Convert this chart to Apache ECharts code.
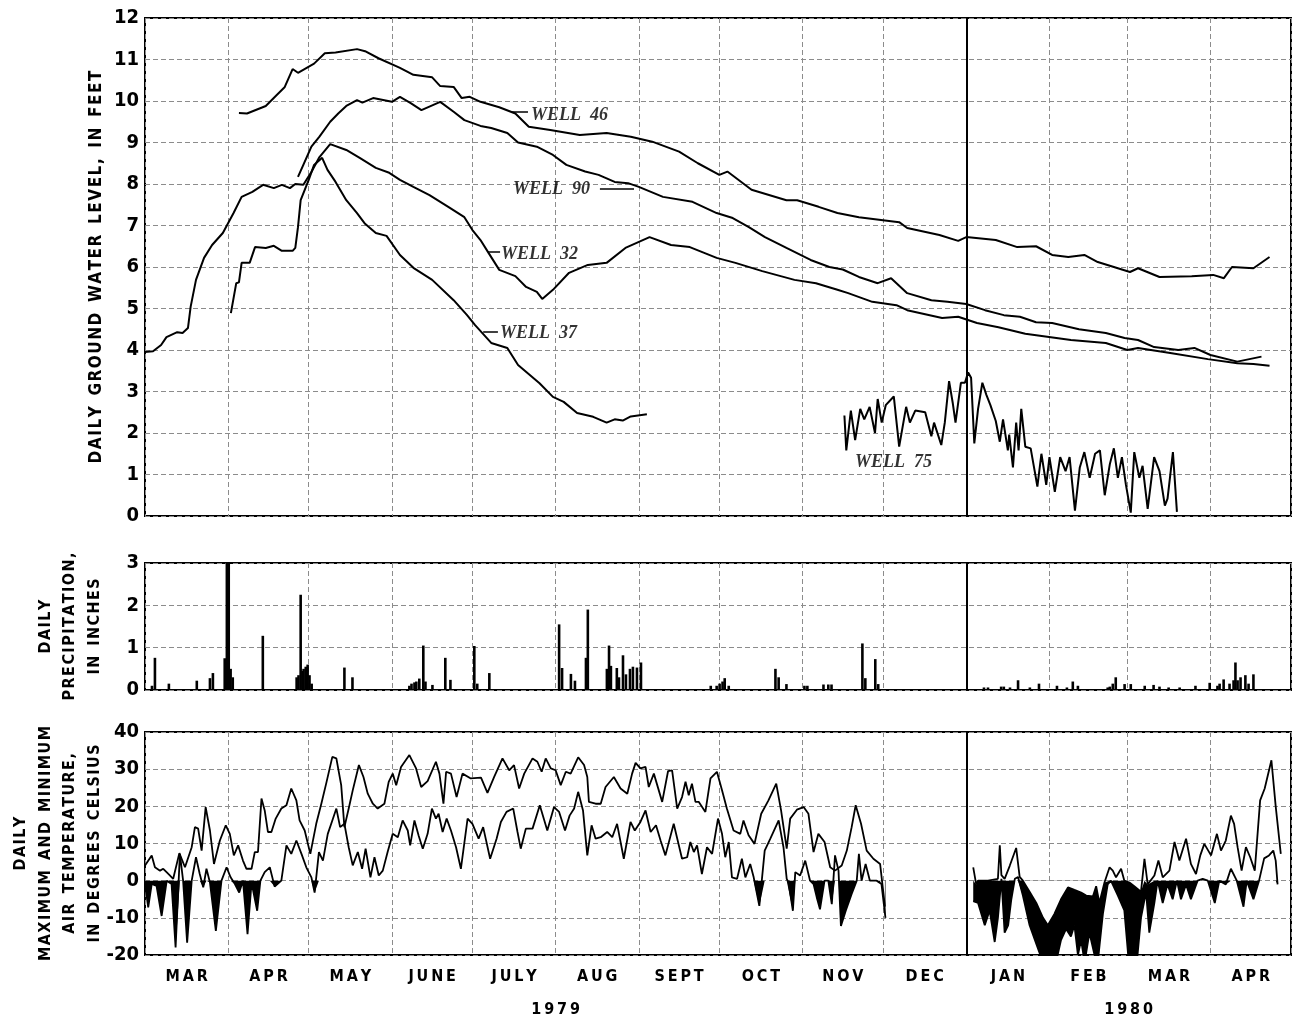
<!DOCTYPE html>
<html>
<head>
<meta charset="utf-8">
<script src="https://cdn.jsdelivr.net/npm/echarts@6.0.0/dist/echarts.min.js"></script>
<style>
  html, body { margin: 0; padding: 0; background: #fff; }
  #container { width: 1293px; height: 1026px; }
</style>
</head>
<body>
<div id="container"></div>
<script>
// x values are days counted from 1 March 1979
const monthNames = ["MAR", "APR", "MAY", "JUNE", "JULY", "AUG", "SEPT", "OCT", "NOV", "DEC", "JAN", "FEB", "MAR", "APR"];
const monthLengths = [31, 30, 31, 30, 31, 31, 30, 31, 30, 31, 31, 29, 31, 30];
const yearNames = ["1979", "1980"];

// daily ground water level, feet
const well46 = [[35,9.71],[38,9.7],[45,9.88],[49,10.14],[52,10.33],[55,10.77],[57,10.68],[63,10.9],[67,11.15],[71,11.17],[79,11.25],[82,11.2],[87,11.03],[95,10.8],[100,10.63],[107,10.57],[110,10.36],[115,10.34],[118,10.07],[121,10.1],[125,9.98],[132,9.85],[138,9.7],[143,9.38],[151,9.3],[162,9.18],[172,9.23],[181,9.14],[189,9.02],[199,8.78],[206,8.5],[214,8.22],[217,8.3],[226,7.86],[239,7.61],[243,7.61],[251,7.45],[258,7.3],[266,7.2],[281,7.08],[284,6.94],[296,6.77],[303,6.63],[306,6.72],[317,6.65],[325,6.48],[332,6.5],[338,6.29],[344,6.24],[350,6.29],[355,6.12],[367,5.88],[370,5.97],[378,5.76],[390,5.78],[398,5.81],[402,5.73],[405,6.0],[413,5.97],[419,6.24]];
const well90 = [[57,8.17],[59,8.46],[62,8.9],[65,9.14],[69,9.5],[72,9.7],[75,9.88],[79,10.02],[81,9.96],[85,10.07],[92,9.98],[95,10.1],[99,9.95],[103,9.78],[110,9.98],[115,9.74],[119,9.54],[125,9.4],[129,9.35],[135,9.23],[139,9.0],[146,8.9],[152,8.7],[157,8.46],[164,8.3],[169,8.22],[175,8.05],[180,8.02],[184,7.93],[193,7.69],[204,7.57],[213,7.3],[219,7.18],[225,6.96],[231,6.72],[239,6.46],[248,6.17],[255,6.0],[260,5.94],[266,5.76],[273,5.61],[278,5.73],[284,5.37],[293,5.2],[299,5.16],[306,5.11],[313,4.96],[320,4.84],[326,4.8],[332,4.67],[338,4.65],[348,4.5],[358,4.41],[365,4.29],[370,4.24],[376,4.07],[385,4.0],[391,4.05],[397,3.88],[407,3.72],[416,3.84]];
const well32 = [[0,3.95],[3,3.97],[6,4.12],[8,4.31],[12,4.43],[14,4.41],[16,4.53],[17,5.04],[19,5.69],[22,6.22],[25,6.53],[29,6.82],[33,7.3],[36,7.69],[40,7.81],[44,7.98],[48,7.9],[51,7.98],[54,7.9],[56,8.0],[59,7.98],[62,8.29],[65,8.65],[69,8.96],[75,8.82],[80,8.63],[86,8.39],[91,8.27],[95,8.1],[100,7.93],[106,7.73],[113,7.45],[119,7.2],[122,6.89],[125,6.65],[128,6.34],[132,5.93],[138,5.78],[142,5.52],[146,5.4],[148,5.23],[152,5.45],[158,5.86],[165,6.05],[172,6.1],[179,6.46],[188,6.72],[196,6.53],[203,6.48],[213,6.22],[220,6.1],[230,5.9],[242,5.69],[250,5.61],[258,5.45],[262,5.37],[271,5.16],[280,5.08],[284,4.96],[297,4.77],[303,4.8],[310,4.65],[318,4.55],[328,4.39],[345,4.24],[358,4.17],[366,4.0],[370,4.05],[382,3.93],[396,3.78],[407,3.68],[413,3.66],[419,3.62]];
const well37 = [[32,4.89],[34,5.61],[35,5.63],[36,6.1],[39,6.1],[41,6.48],[45,6.46],[48,6.51],[51,6.39],[55,6.39],[56,6.46],[57,6.96],[58,7.61],[61,8.1],[63,8.46],[66,8.63],[68,8.34],[71,8.05],[75,7.61],[79,7.3],[82,7.04],[86,6.82],[90,6.75],[95,6.29],[100,5.98],[107,5.69],[115,5.2],[120,4.84],[123,4.6],[129,4.17],[135,4.05],[139,3.64],[147,3.2],[152,2.87],[156,2.75],[161,2.48],[167,2.39],[172,2.25],[175,2.33],[178,2.3],[181,2.4],[187,2.45]];
const well75 = [[260.6,2.42],[261.3,1.58],[263,2.54],[264.6,1.83],[266.5,2.58],[268,2.33],[270,2.63],[272,2.0],[273,2.82],[274.5,2.25],[276,2.67],[279,2.88],[281,1.67],[283.6,2.63],[285,2.25],[287,2.54],[290.7,2.5],[293,1.92],[294,2.25],[296.7,1.71],[298,2.25],[299.6,3.25],[301,2.71],[302,2.25],[304,3.21],[305.5,3.21],[306.7,3.46],[307.8,3.33],[309,1.75],[310.4,2.58],[312,3.21],[313.5,2.92],[315,2.67],[317,2.29],[318.5,1.79],[319.7,2.33],[321.5,1.58],[322,1.96],[323.4,1.17],[324.6,2.25],[325.5,1.58],[326.5,2.58],[328,1.67],[330,1.63],[331.5,1.08],[332.5,0.71],[334,1.5],[335.8,0.75],[337,1.42],[339,0.58],[341,1.42],[343,1.08],[344.5,1.42],[346.5,0.13],[348.3,1.17],[350,1.54],[352,0.92],[354,1.5],[355.8,1.58],[357.6,0.5],[359.5,1.25],[361,1.63],[362.5,0.92],[364,1.42],[365.5,0.75],[367.3,0.08],[368.6,1.54],[370.5,0.92],[371.7,1.21],[373.6,0.17],[376,1.42],[378,1.08],[380,0.25],[381,0.42],[383,1.54],[384.5,0.1]];

const wellLabelNames = ["WELL 46", "WELL 90", "WELL 32", "WELL 37", "WELL 75"];
const wellLabelAt = [[143.8,9.66],[137.1,7.86],[132.6,6.31],[132.3,4.41],[264.5,1.3]];
const wellLeaders = [[[136.7,9.73],[142.7,9.73]], [[169.5,7.88],[182.2,7.88]], [[127.8,6.36],[132.3,6.36]], [[126,4.43],[131.5,4.43]]];

// daily precipitation, inches
const precip = [[2.6,0.1],[3.7,0.76],[8.9,0.15],[19.3,0.22],[24.2,0.28],[25.3,0.4],[29.7,0.75],[30.5,3],[31.2,3],[31.9,0.5],[32.7,0.3],[43.9,1.28],[56.5,0.3],[57.2,0.35],[58,2.25],[58.7,0.45],[59.1,0.5],[59.9,0.55],[60.6,0.6],[61.3,0.35],[62.1,0.15],[74.3,0.53],[77.3,0.3],[98.5,0.1],[99.3,0.15],[100.4,0.18],[101.1,0.2],[102.2,0.27],[103.7,1.05],[104.5,0.2],[107.1,0.12],[111.9,0.76],[113.8,0.24],[122.7,1.04],[123.8,0.15],[128.3,0.4],[154.3,1.55],[155.4,0.52],[158.7,0.38],[160.2,0.22],[164.3,0.76],[165,1.9],[172.1,0.5],[172.9,1.05],[173.6,0.57],[175.8,0.52],[176.6,0.3],[178.1,0.82],[179.2,0.37],[180.7,0.5],[181.8,0.55],[183.3,0.53],[184.8,0.65],[210.8,0.1],[213,0.1],[214.1,0.15],[215.2,0.2],[216,0.28],[217.5,0.1],[234.9,0.5],[236.1,0.3],[239,0.14],[245.7,0.1],[246.8,0.1],[252.8,0.13],[254.6,0.13],[255.8,0.13],[267.3,1.1],[268.4,0.28],[272.1,0.73],[273.2,0.14],[312.6,0.06],[314.1,0.06],[319,0.08],[320,0.08],[322.3,0.06],[325.3,0.23],[329.7,0.06],[333.1,0.15],[339.8,0.1],[343.5,0.06],[345.7,0.2],[347.6,0.1],[358.7,0.06],[359.5,0.08],[360.6,0.15],[361.7,0.3],[365,0.14],[367.3,0.14],[372.5,0.1],[375.8,0.12],[378,0.08],[381.4,0.06],[385.5,0.06],[391.4,0.1],[396.7,0.17],[399.6,0.1],[400.4,0.15],[401.9,0.25],[404.1,0.15],[405.6,0.23],[406.3,0.65],[407.1,0.23],[408.2,0.3],[410,0.35],[411.2,0.15],[413,0.37]];

// daily maximum and minimum air temperature, degrees Celsius
const tMax1979 = [[0,4.1],[2.5,6.8],[3.7,3.6],[5.6,2.7],[6.8,3.2],[8.7,1.8],[10.5,0.5],[12.8,7.4],[14.9,3.6],[17.4,9.0],[18.6,14.4],[19.8,14],[21.1,8.1],[22.6,19.8],[24.2,13.5],[25.7,4.5],[27.9,10.8],[30.1,14.9],[31.6,12.6],[33.1,6.8],[34.7,9.5],[36.5,5.4],[37.8,3.2],[39.7,3.2],[40.9,7.7],[42.1,7.7],[43.4,22.1],[44.6,18.9],[45.8,13.1],[47.1,13.1],[48.7,16.7],[50.8,19.4],[52.7,20.3],[54.5,24.8],[56.4,21.6],[57.6,16.2],[59.5,13.5],[61.6,7.2],[63.8,15.3],[65.7,20.7],[67.5,26.1],[69.8,33.3],[71.3,32.9],[73.1,25.7],[74.3,14.4],[75.9,19.4],[77.4,24.3],[79.7,31.1],[81.4,27.9],[83,23.4],[84.9,20.7],[86.7,19.4],[89.2,20.7],[90.8,26.6],[92.3,28.8],[93.6,25.7],[95.4,30.6],[98.5,33.8],[101,30.2],[102.9,25.2],[105.3,26.8],[108.4,32],[109.7,28.8],[111.2,20.7],[112.2,29.3],[114,28.8],[116.1,22.5],[118.3,28.8],[121.4,27.5],[125.2,27.7],[127.6,23.6],[130.1,27.9],[133.2,32.9],[135.7,29.7],[137.5,31.1],[139.4,24.8],[141.3,28.8],[144.4,32.9],[146.2,32],[147.8,29.3],[149.3,32.9],[151.2,30.2],[153,29.7],[154.9,25.7],[156.8,29.3],[158.6,28.8],[161.4,33.2],[163.6,31.1],[164.8,27.9],[165.4,21.2],[167.9,20.7],[169.8,20.7],[171.6,25.2],[174.7,27.9],[177.2,24.8],[179.7,23.4],[181.5,28.8],[182.8,31.7],[184.6,30.2],[186.5,30.6],[187.7,25.2],[189.6,28.8],[192.7,21.2],[194.9,29.5],[196.4,29.7],[198.3,19.4],[200.1,22.5],[201.4,26.6],[202.6,23],[203.8,26.1],[205.1,21.2],[206.3,21.2],[208.8,18.5],[210.7,27.5],[213.1,29.3],[215,24.3],[216.8,19.4],[219.3,13.5],[221.8,12.6],[223,16.2],[224.9,12.2],[227.1,9.9],[229.6,18],[232.3,21.6],[235.2,26.1],[237,18.9],[239.1,8.6],[240.4,16.7],[242.9,19.1],[245.4,19.8],[247.2,18],[249.1,7.7],[250.9,12.6],[253.2,10.4],[255.3,3.6],[257.1,2.7],[259.6,4.1],[261.5,8.1],[263.3,14.4],[264.8,20.3],[266.8,15.3],[268.9,8.1],[271.4,5.9],[273.9,4.5],[275.7,-7]];
const tMin1979 = [[0,-0.9],[1.2,-7.2],[2.5,-0.9],[4.3,-1.4],[6.2,-9.5],[8.1,0],[9.9,-0.9],[11.4,-18],[13,7.2],[14.2,0],[15.7,-16.7],[17.4,0],[19,6.3],[20.4,1.8],[21.7,-1.8],[22.9,3.2],[24.2,-0.5],[26.4,-13.5],[28.5,0],[30.4,3.6],[31.9,0.9],[33.5,-0.9],[35.1,-3.2],[36.5,0],[38.2,-14.4],[39.7,-0.5],[41.8,-8.1],[43,0],[44.6,2.3],[46.5,3.6],[48.3,-1.6],[50.8,0],[52.7,9.5],[54.5,7.2],[56.4,10.8],[58.3,7.2],[60.1,3.6],[62,0.9],[63.2,-3.2],[64.8,7.7],[66.3,5.4],[68.1,12.6],[69.8,16.2],[71.3,19.4],[72.7,14.4],[74.3,15.3],[75.9,9],[77.4,4.1],[79.3,7.7],[80.9,3.2],[82.2,8.6],[84,0.9],[85.5,6.3],[87.1,1.4],[88.6,2.7],[90.4,7.7],[92.3,12.6],[94.2,11.7],[96,16.2],[97.9,13.5],[98.8,9.5],[100.4,16.2],[102,12],[103.5,8.6],[105.3,12.6],[106.9,19.4],[108.4,16.7],[109.4,18],[110.9,13.1],[112.4,16.7],[114,13.5],[115.9,9],[117.7,3.2],[120.2,16.7],[122,15.3],[124.3,11.3],[126,14.4],[128.6,5.9],[131,11.3],[132.6,15.8],[134.7,18.5],[137.2,19.4],[138.8,13.1],[140,8.6],[141.9,14],[144.4,14],[147.1,20.3],[149.9,13.5],[152.4,19.8],[154.3,18.5],[156.5,13.5],[158.2,17.5],[159.9,19.4],[161.4,23.9],[163.2,18.9],[164.8,6.8],[166.4,14.9],[167.9,11.3],[169.8,11.7],[172.2,13.1],[174.1,11.7],[175.9,15.3],[178.4,5.9],[180.9,15.8],[182.5,13.5],[184.6,15.8],[186.5,18.9],[188.4,13.1],[190.4,14.9],[192.1,10.8],[193.9,6.8],[197,15.3],[200.1,5.9],[202,6.3],[203.2,10.4],[204.5,7.7],[205.7,9.5],[207.5,1.8],[209.4,9],[211.3,7.2],[213.5,16.7],[215,12.6],[216.2,6.3],[217.5,10.4],[218.7,0.9],[220.6,0.5],[222.4,5.9],[223.7,0.9],[225.5,4.5],[226.8,0.9],[228.9,-6.8],[230.9,8.1],[233,11.3],[236.1,16.2],[237.9,9],[239.1,0.5],[239.8,-0.5],[241.4,-8.1],[242.3,2.3],[244.1,1.4],[246,5.4],[247.8,0],[249.1,-0.9],[250.3,-4.5],[251.5,-7.7],[253.2,0],[254.6,0],[255.9,-6.3],[257.1,6.8],[258.4,2.7],[259.3,-12.2],[261.1,-8.1],[263.3,-3.6],[265.2,0],[266,7.2],[267,0],[268.5,4.5],[270.1,0],[272.6,0],[274.4,-0.9],[275.9,-10]];
const tMax1980 = [[308.6,3.6],[309.7,-1],[310.4,0],[314.1,0],[317.8,0.5],[318.5,9.5],[319.1,1.5],[320.3,0.5],[322.2,4],[324.6,8.8],[325.9,1],[327.1,0],[329.6,-3],[332.1,-6],[334.6,-10],[336.4,-12],[338.8,-9],[341.3,-5],[343.9,-1.8],[346.3,-2.5],[348.8,-3.2],[350.7,-4],[353.2,-4.2],[354.4,-1.5],[355.6,-6],[357.5,-0.5],[359.4,3.6],[360.6,2.7],[361.8,0.9],[363.7,3.2],[364.9,0],[366.8,-0.5],[368.6,-1.5],[371.1,-3],[372.4,5.9],[373.6,-1],[376.1,1.4],[377.6,5.4],[379.2,0.9],[381.7,2.7],[383.6,10.4],[385.4,5.4],[387.9,11.3],[389.7,4.5],[391.6,1.8],[393.2,6.8],[394.7,9.9],[397.2,6.8],[399.4,12.6],[400.9,8.1],[402.7,10.8],[404.6,17.5],[405.8,15.3],[407.1,9],[408.6,2.7],[410.2,9],[411.8,6.3],[413.5,2.7],[415.5,21.6],[417.2,24.8],[419.7,32.4],[421.3,20],[423.2,7.2]];
const tMin1980 = [[308.6,-5.5],[310.4,-6],[312.9,-12],[314.7,-8],[316.6,-16.5],[317.8,-10],[319.1,0.5],[320.3,-14],[321.6,-12],[322.8,-5],[324.1,0.5],[325.3,1],[327.1,-4],[329.6,-12],[332.1,-17],[334.6,-22],[336.4,-24],[338.8,-24],[341.3,-16],[343.2,-13],[345,-15],[346.3,-12],[347.6,-20],[348.8,-16],[350.1,-22],[351.9,-14],[353.8,-20],[355,-22],[356.9,-9],[358.7,-1],[359.9,0],[362.5,-4],[364.9,-8],[366.8,-24],[369.3,-24],[371.1,-10],[373,-3],[374.2,-14],[376.1,-6],[377.3,0],[379.2,-6],[381,-1],[382.9,-5],[384.5,0],[386,-5],[387.9,-1],[389.7,-5],[392.2,0],[394.1,0.5],[396,0],[398.6,-6],[400.3,0],[402.7,-1],[404.6,3.2],[406.8,0],[409.3,-7],[410.5,0],[413,-5],[415.1,0],[417,6],[418.8,6.8],[420.4,8.1],[421.3,5.4],[422,-1]];

// calendar helpers
const monthStarts = [0];
monthLengths.forEach((n, i) => monthStarts.push(monthStarts[i] + n));
const monthMids = monthLengths.map((n, i) => monthStarts[i] + n / 2);
const dayMax = monthStarts[monthStarts.length - 1];
const jan1980 = monthStarts[10];
const yearMids = [jan1980 / 2, (jan1980 + dayMax) / 2];

const FONT = "'Liberation Sans Narrow', 'DejaVu Sans Condensed', sans-serif";
const SERIF = "'Liberation Serif', 'DejaVu Serif', serif";
const spread = (gap, word) => (s) => s.split("").map((c) => (c === " " ? word : c)).join(gap);
const spaced = spread("\u2009", "\u2002");      // tick and year labels
const titled = spread("\u200A", "\u2002");      // axis names
const nearest = (arr, v) => arr.reduce((b, x, i) => (Math.abs(x - v) < Math.abs(arr[b] - v) ? i : b), 0);

const gridLine = { show: true, lineStyle: { color: "#8c8c8c", type: [5, 3], width: 1 } };
const yearLine = {
  symbol: "none", silent: true, label: { show: false },
  lineStyle: { color: "#000", type: "solid", width: 2 },
  data: [{ xAxis: jan1980 }],
};

function gridAt(top, height) {
  return {
    left: 145, right: 2, top, height, show: true, borderColor: "#000", borderWidth: 2,
    containLabel: false, outerBoundsMode: "none",
  };
}

function xAxisFor(gridIndex, withLabels) {
  return {
    type: "value", gridIndex, min: 0, max: dayMax,
    axisLine: { show: false },
    axisTick: { show: false, customValues: monthStarts },
    splitLine: gridLine,
    axisLabel: withLabels ? {
      customValues: monthMids, margin: 14, color: "#000",
      fontFamily: FONT, fontWeight: "bold", fontSize: 16,
      formatter: (v) => spaced(monthNames[nearest(monthMids, v)]),
    } : { show: false },
  };
}

function yAxisFor(gridIndex, min, max, interval, name, gap, size) {
  return {
    type: "value", gridIndex, min, max, interval,
    axisLine: { show: false }, axisTick: { show: false },
    splitLine: gridLine,
    axisLabel: { color: "#000", fontFamily: FONT, fontWeight: "bold", fontSize: 20, margin: 6 },
    name: name.map(titled).join("\n"),
    nameLocation: "middle", nameRotate: 90, nameGap: gap, nameMoveOverlap: false,
    nameTextStyle: { color: "#000", fontFamily: FONT, fontWeight: "bold", fontSize: size, lineHeight: 24.5 },
  };
}

function wellSeries(data) {
  return {
    type: "line", xAxisIndex: 0, yAxisIndex: 0, data, showSymbol: false,
    lineStyle: { color: "#000", width: 2 }, z: 4,
  };
}

function tempSeries(maxData, minData) {
  const below = (d) => d.map(([x, t]) => [x, Math.min(t, 0)]);
  const base = { type: "line", xAxisIndex: 2, yAxisIndex: 2, showSymbol: false };
  return [
    Object.assign({}, base, { data: below(minData), lineStyle: { opacity: 0 }, areaStyle: { color: "#000", opacity: 1, origin: 0 }, z: 2 }),
    Object.assign({}, base, { data: below(maxData), lineStyle: { opacity: 0 }, areaStyle: { color: "#fff", opacity: 1, origin: 0 }, z: 3 }),
    Object.assign({}, base, { data: maxData, lineStyle: { color: "#000", width: 1.8 }, z: 4 }),
    Object.assign({}, base, { data: minData, lineStyle: { color: "#000", width: 1.8 }, z: 4 }),
  ];
}

const dom = document.getElementById("container");
const myChart = echarts.init(dom, null, { renderer: "canvas" });

const option = {
  animation: false,
  backgroundColor: "#fff",
  grid: [gridAt(18, 498), gridAt(563, 127), gridAt(732, 223)],
  xAxis: [
    xAxisFor(0, false),
    xAxisFor(1, false),
    xAxisFor(2, true),
    {
      type: "value", gridIndex: 2, min: 0, max: dayMax, position: "bottom", offset: 33,
      axisLine: { show: false }, axisTick: { show: false }, splitLine: { show: false },
      axisLabel: {
        customValues: yearMids, margin: 14, color: "#000",
        fontFamily: FONT, fontWeight: "bold", fontSize: 16,
        formatter: (v) => spaced(yearNames[nearest(yearMids, v)]),
      },
    },
  ],
  yAxis: [
    yAxisFor(0, 0, 12, 1, ["DAILY GROUND WATER LEVEL, IN FEET"], 36, 17),
    yAxisFor(1, 0, 3, 1, ["DAILY", "PRECIPITATION,", "IN INCHES"], 38, 16),
    yAxisFor(2, -20, 40, 10, ["DAILY", "MAXIMUM AND MINIMUM", "AIR TEMPERATURE,", "IN DEGREES CELSIUS"], 38, 16),
  ],
  series: [
    Object.assign(wellSeries(well46), { markLine: yearLine }),
    wellSeries(well90),
    wellSeries(well32),
    wellSeries(well37),
    wellSeries(well75),
    {
      type: "scatter", xAxisIndex: 0, yAxisIndex: 0, symbolSize: 0, z: 5,
      data: wellLabelNames.map((n, i) => ({ name: n.replace(" ", "  "), value: wellLabelAt[i] })),
      label: {
        show: true, position: "right", distance: 0, formatter: "{b}", color: "#000",
        fontFamily: SERIF, fontStyle: "italic", fontWeight: "bold", fontSize: 18,
      },
      markLine: {
        symbol: "none", silent: true, label: { show: false },
        lineStyle: { color: "#000", type: "solid", width: 1.5 },
        data: wellLeaders.map(([a, b]) => [{ coord: a }, { coord: b }]),
      },
    },
    {
      type: "bar", xAxisIndex: 1, yAxisIndex: 1, data: precip, barWidth: 2.6,
      itemStyle: { color: "#000" }, markLine: yearLine, z: 4,
    },
    ...tempSeries(tMax1979, tMin1979),
    ...tempSeries(tMax1980, tMin1980),
    {
      type: "line", xAxisIndex: 2, yAxisIndex: 2, data: [], markLine: yearLine,
    },
  ],
};

if (option && typeof option === "object") {
  myChart.setOption(option);
}

window.addEventListener("resize", myChart.resize);
</script>
</body>
</html>
